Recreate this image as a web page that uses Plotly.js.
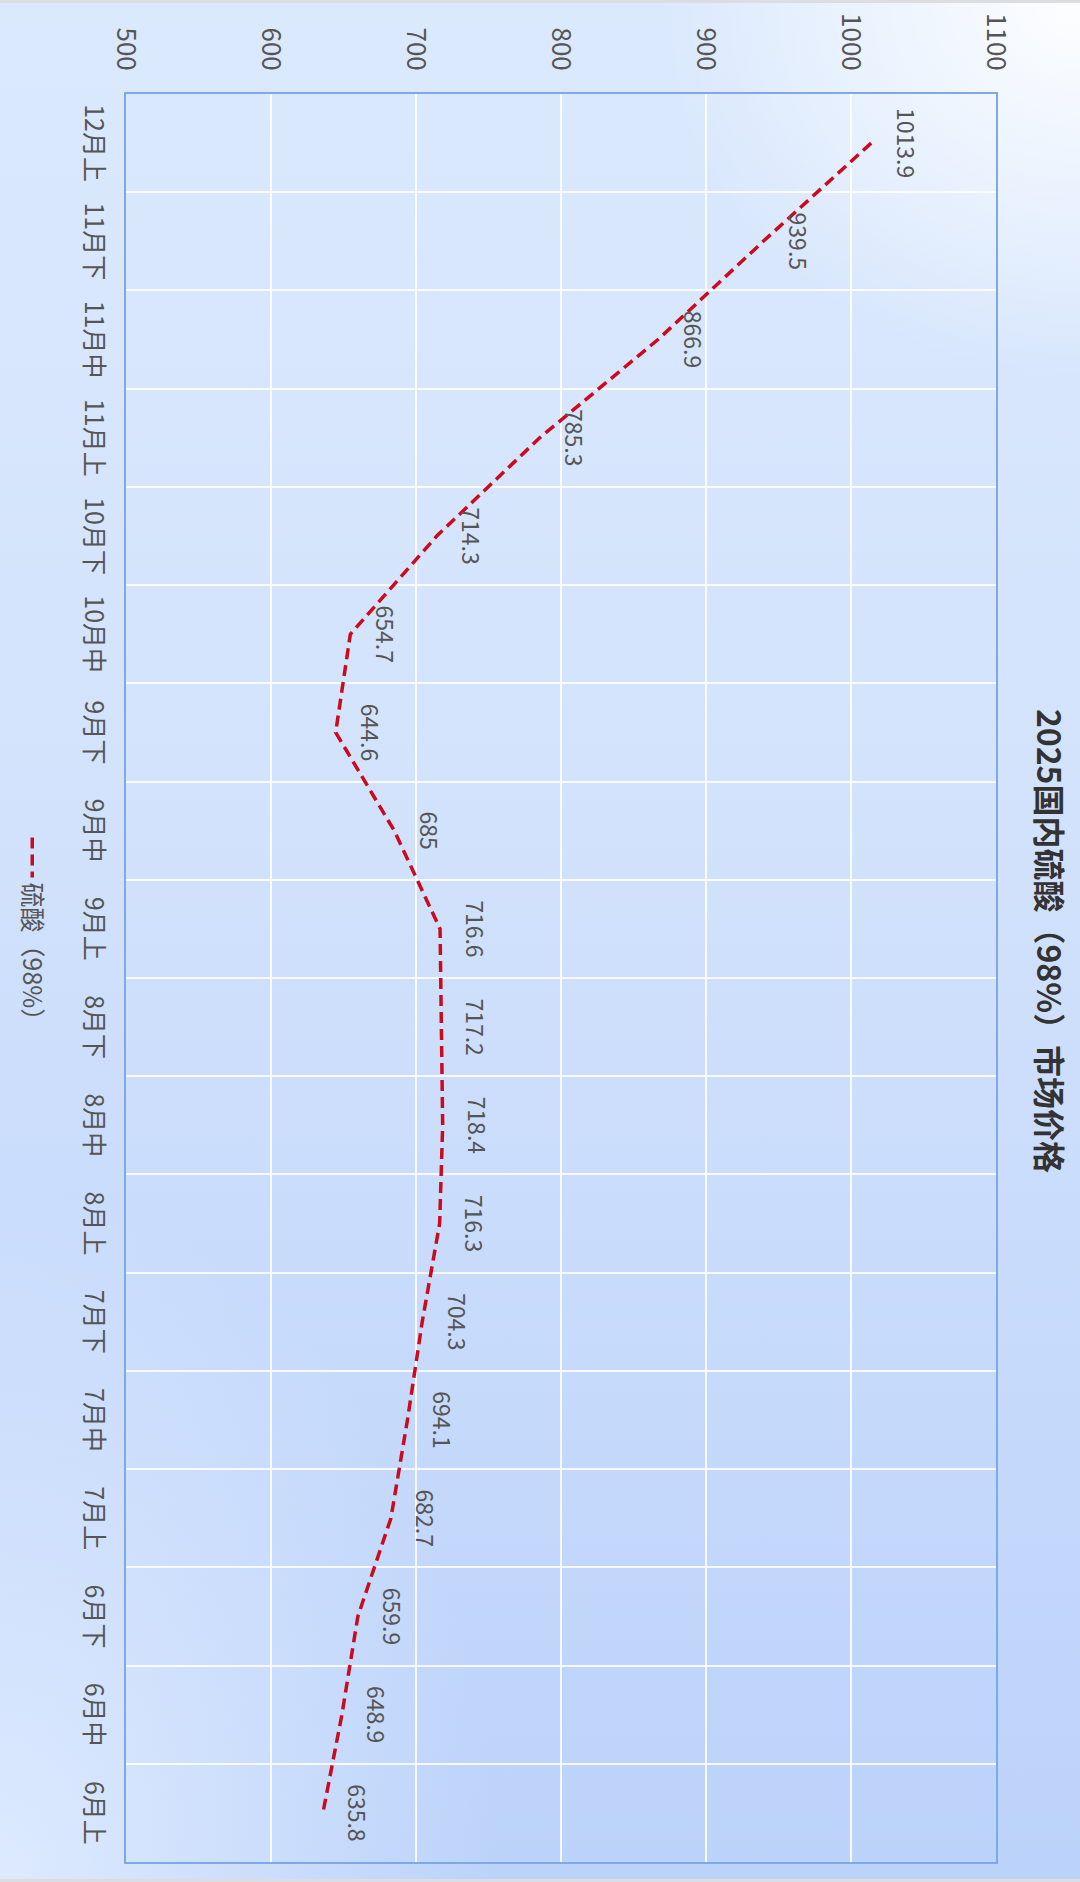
<!DOCTYPE html>
<html>
<head>
<meta charset="utf-8">
<script src="https://cdn.plot.ly/plotly-3.0.1.min.js"></script>
<style>
  html, body { margin:0; padding:0; width:1080px; height:1882px; overflow:hidden; }
  body {
    background:
      radial-gradient(ellipse 420px 380px at 100% 0%, rgba(255,255,255,0.95) 0%, rgba(255,255,255,0) 100%),
      radial-gradient(ellipse 500px 700px at 0% 100%, rgba(225,237,255,0.9) 0%, rgba(225,237,255,0) 100%),
      linear-gradient(180deg, #dbe9fd 0%, #d3e3fc 40%, #c5d9fb 75%, #bbd2fa 100%);
    position: relative;
  }
  #frame { position:absolute; left:0; top:0; width:1080px; height:1882px; box-sizing:border-box;
           border-top:3px solid #dcdde0; border-bottom:3px solid #dcdde0; pointer-events:none; }
  #chart {
    position:absolute; left:0; top:0; width:1882px; height:1080px;
    transform-origin: 0 0;
    transform: translate(1080px, 0) rotate(90deg);
  }
</style>
</head>
<body>
<div id="chart"></div>
<div id="frame"></div>
<script>
const chartTitle = '2025国内硫酸（98%）市场价格';
const seriesName = '硫酸（98%）';
const categories = ['12月上','11月下','11月中','11月上','10月下','10月中','9月下','9月中','9月上',
                    '8月下','8月中','8月上','7月下','7月中','7月上','6月下','6月中','6月上'];
const prices = [1013.9, 939.5, 866.9, 785.3, 714.3, 654.7, 644.6, 685, 716.6,
                717.2, 718.4, 716.3, 704.3, 694.1, 682.7, 659.9, 648.9, 635.8];
const valueTicks = [500, 600, 700, 800, 900, 1000, 1100];

const font = '"Noto Sans CJK SC", "Noto Sans", sans-serif';

const trace = {
  type: 'scatter',
  mode: 'lines+markers+text',
  name: seriesName,
  x: categories,
  y: prices,
  text: prices.map(v => String(v)),
  textposition: 'top center',
  textfont: { family: font, size: 23, color: '#555' },
  line: { color: '#cc0a1e', width: 3.5, dash: '11px,6px' },
  marker: { size: 30, color: 'rgba(0,0,0,0)' },
  cliponaxis: false,
  hoverinfo: 'x+y'
};

const layout = {
  width: 1882,
  height: 1080,
  margin: { l: 94, r: 20, t: 84, b: 126 },
  paper_bgcolor: 'rgba(0,0,0,0)',
  plot_bgcolor: 'rgba(0,0,0,0)',
  font: { family: font, color: '#555' },
  title: {
    text: '<b>' + chartTitle + '</b>',
    font: { family: font, size: 32, color: '#333' },
    x: 0.5, xanchor: 'center',
    y: 1 - 32/1080, yanchor: 'middle'
  },
  showlegend: true,
  legend: {
    orientation: 'h',
    x: 0.476, xanchor: 'center',
    yref: 'container', y: 32/1080, yanchor: 'middle',
    font: { family: font, size: 25, color: '#555' },
    bgcolor: 'rgba(0,0,0,0)',
    itemwidth: 40
  },
  xaxis: {
    type: 'category',
    categoryorder: 'array',
    categoryarray: categories,
    range: [-0.5, categories.length - 0.5],
    tickson: 'boundaries',
    ticks: '',
    showgrid: true,
    gridcolor: 'rgba(255,255,255,0.85)',
    gridwidth: 2,
    showline: true,
    linecolor: '#7ea8e8',
    linewidth: 2,
    mirror: true,
    zeroline: false,
    tickfont: { family: font, size: 25, color: '#555' },
    ticklabelstandoff: 9,
    fixedrange: true
  },
  yaxis: {
    range: [500, 1100],
    tickvals: valueTicks,
    ticktext: valueTicks.map(String),
    ticks: '',
    showgrid: true,
    gridcolor: 'rgba(255,255,255,0.85)',
    gridwidth: 2,
    showline: true,
    linecolor: '#7ea8e8',
    linewidth: 2,
    mirror: true,
    zeroline: false,
    tickfont: { family: font, size: 26, color: '#555' },
    ticklabelstandoff: 16,
    fixedrange: true
  }
};

Plotly.newPlot('chart', [trace], layout, { displayModeBar: false, staticPlot: true });
</script>
</body>
</html>
